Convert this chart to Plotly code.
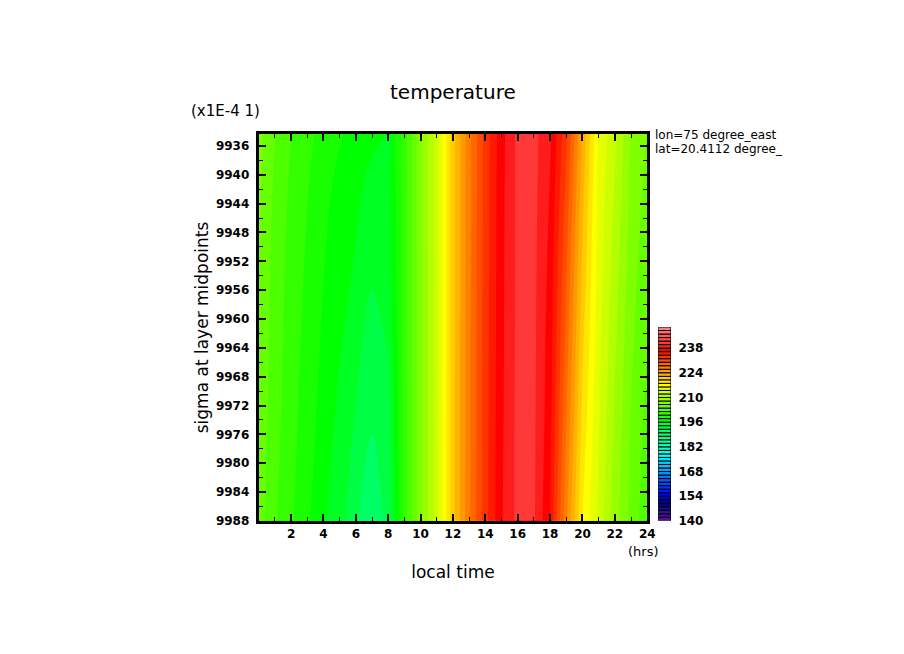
# temperature vs local time and sigma, stepped contour with striped key
import plotly.graph_objects as go

# %%
# data
hours = list(range(25))
sigma = [9934.35, 9942, 9955, 9972, 9988]
temp_top = [206.8, 204.1, 202, 200.6, 199.2, 198.2, 197.4, 196.5, 196, 201, 207.5, 213.2, 221.2, 227.3, 232.8, 237.3, 240.5, 240.7, 238.3, 232.5, 223.6, 215.8, 212.4, 207.8, 205.9]
temp_9942 = [206.4, 203.6, 201.6, 200.1, 198.6, 197.4, 196.5, 195.3, 195.5, 201, 207.5, 213.2, 221.2, 227.3, 232.9, 237.4, 240.5, 240.6, 237.9, 231.5, 222.7, 215.4, 211.8, 207.4, 205.4]
temp_9955 = [206, 203.2, 201.2, 199.6, 198, 196.8, 195.6, 194.1, 194.8, 201, 207.4, 213.2, 221.2, 227.4, 233, 237.5, 240.5, 240.5, 237.3, 230, 221.3, 215, 210.9, 206.8, 204.5]
temp_9972 = [205.5, 202.8, 200.8, 199, 197.3, 195.6, 194, 192.4, 193.5, 201, 207.4, 213.2, 221.3, 227.5, 233.1, 237.6, 240.6, 240.4, 236.8, 228.3, 219.6, 214.3, 209.8, 206, 203.5]
temp_bottom = [205, 202.3, 200.3, 198.4, 196.2, 194.8, 192.2, 190.8, 192.5, 201, 207.3, 213.2, 221.3, 227.6, 233.2, 237.8, 240.6, 240.3, 236, 226.5, 217.8, 213.6, 208.8, 205.4, 202.5]

hour_ticks = [2, 4, 6, 8, 10, 12, 14, 16, 18, 20, 22, 24]
sigma_ticks = [9936, 9940, 9944, 9948, 9952, 9956, 9960, 9964, 9968, 9972, 9976, 9980, 9984, 9988]
key_ticks = [140, 154, 168, 182, 196, 210, 224, 238]
levels = list(range(140, 250, 2))

# colour palette, value -> colour
cmap_values = [139, 141, 145, 149, 155, 167, 177, 185, 191, 197, 207, 217, 225, 237, 241, 251]
cmap_colors = ["#5a0aa0", "#5a0aa0", "#32109a", "#000080", "#0000ff", "#0090ff", "#00ffff",
               "#00ff99", "#00ff66", "#00ff00", "#80ff00", "#ffff00", "#ff9900", "#ff0000",
               "#ff3838", "#ff9090"]
colorscale = [[(v - 139) / 112, c] for v, c in zip(cmap_values, cmap_colors)]

W, H = 904, 654
# the page comes out a few pixels up and left of where the layout says
OX, OY = 5, 4.5
FONT = "DejaVu Sans"


def px_x(x):
    return (x + OX) / W


def px_y(y):
    return (H - y - OY) / H


fig = go.Figure()

fig.add_trace(
    go.Contour(
        x=hours,
        y=sigma,
        z=[temp_top, temp_9942, temp_9955, temp_9972, temp_bottom],
        colorscale=colorscale,
        zmin=139,
        zmax=251,
        autocontour=False,
        contours=dict(start=140, end=250, size=2, coloring="fill", showlines=False),
        line=dict(width=0),
        showscale=False,
        hoverinfo="skip",
    )
)

# striped key
fig.add_trace(
    go.Bar(
        x=[0] * len(levels),
        y=[2] * len(levels),
        base=levels,
        width=1,
        xaxis="x2",
        yaxis="y2",
        marker=dict(
            color=[v + 1 for v in levels],
            colorscale=colorscale,
            cmin=139,
            cmax=251,
            line=dict(color="black", width=1),
        ),
        hoverinfo="skip",
    )
)

tick_font = dict(family=FONT, size=12, color="black", weight=700)
title_font = dict(family=FONT, size=17, color="black")

fig.update_layout(
    width=W,
    height=H,
    margin=dict(l=0, r=0, t=0, b=0),
    paper_bgcolor="white",
    plot_bgcolor="white",
    showlegend=False,
    barmode="overlay",
    xaxis=dict(
        domain=[px_x(256), px_x(648)],
        range=[0, 24],
        tickvals=hour_ticks,
        ticks="inside",
        ticklen=7,
        tickwidth=2,
        tickcolor="black",
        minor=dict(tick0=1, dtick=2, ticks="inside", ticklen=4, tickwidth=1, tickcolor="black"),
        showline=True,
        linecolor="black",
        linewidth=3,
        mirror="allticks",
        showgrid=False,
        zeroline=False,
        tickfont=tick_font,
        title=dict(text="local time", font=title_font, standoff=26),
    ),
    yaxis=dict(
        domain=[px_y(522), px_y(131)],
        range=[9988, 9934.35],
        tickvals=sigma_ticks,
        tickformat="d",
        ticks="inside",
        ticklen=7,
        tickwidth=2,
        tickcolor="black",
        ticklabelstandoff=4,
        minor=dict(tick0=9938, dtick=4, ticks="inside", ticklen=4, tickwidth=1, tickcolor="black"),
        showline=True,
        linecolor="black",
        linewidth=3,
        mirror="allticks",
        showgrid=False,
        zeroline=False,
        tickfont=tick_font,
        title=dict(text="sigma at layer midpoints", font=title_font, standoff=3),
    ),
    xaxis2=dict(
        domain=[px_x(659), px_x(672)],
        range=[-0.5, 0.5],
        anchor="y2",
        visible=False,
    ),
    yaxis2=dict(
        domain=[px_y(522), px_y(326)],
        range=[140, 250],
        anchor="x2",
        side="right",
        tickvals=key_ticks,
        ticks="outside",
        ticklen=4,
        tickcolor="white",
        showline=False,
        showgrid=False,
        zeroline=False,
        tickfont=tick_font,
    ),
)


def add_text(text, x, y, size, xanchor="left"):
    fig.add_annotation(text=text, xref="paper", yref="paper", x=px_x(x), y=px_y(y),
                       xanchor=xanchor, yanchor="middle", showarrow=False,
                       font=dict(family=FONT, size=size, color="black"))


add_text("temperature", 452, 89, 20, xanchor="center")
add_text("(x1E-4 1)", 186, 108, 15)
add_text("(hrs)", 627, 553, 13)
add_text("lon=75 degree_east", 654, 132, 12)
add_text("lat=20.4112 degree_", 654, 146, 12)

# page margin would push the figure off the window
fig.write_html("out.html", post_script="document.body.style.margin='0';",
               config=dict(displayModeBar=False))
